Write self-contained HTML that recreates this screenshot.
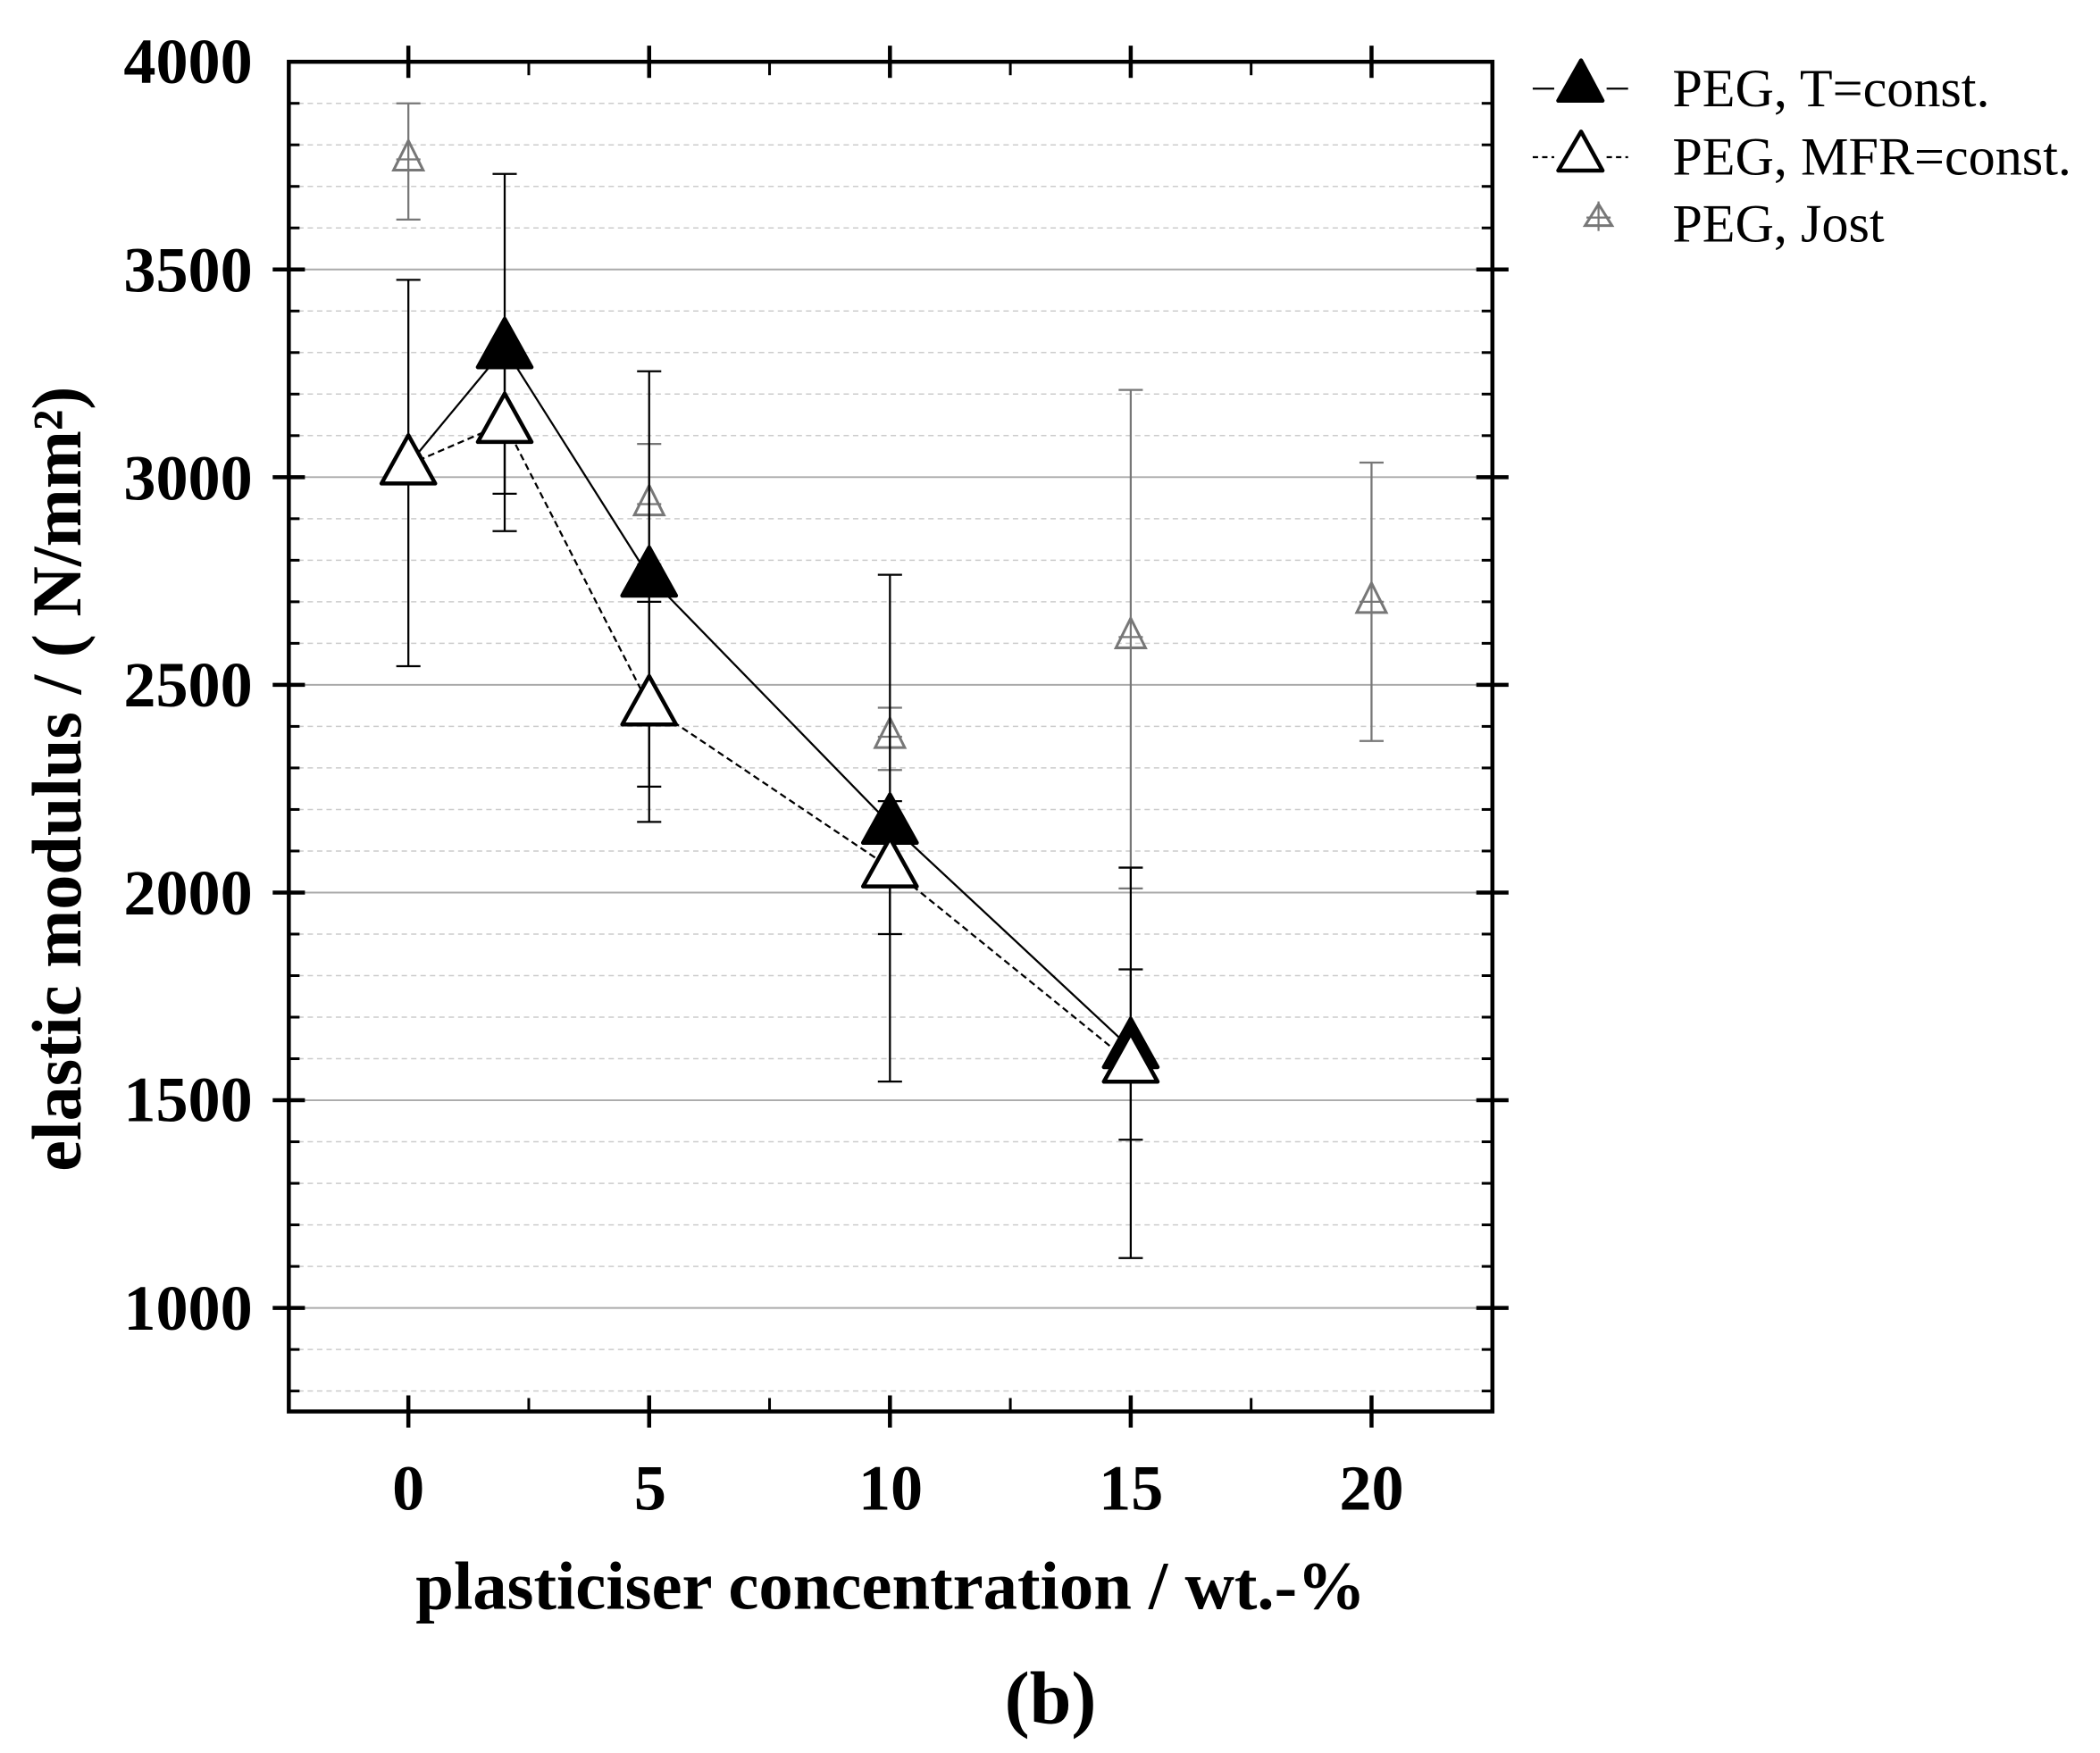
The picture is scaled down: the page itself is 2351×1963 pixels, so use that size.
<!DOCTYPE html>
<html><head><meta charset="utf-8"><style>html,body{margin:0;padding:0;background:#fff}svg{display:block}</style></head>
<body>
<svg id="s" xmlns="http://www.w3.org/2000/svg" width="2351" height="1963" viewBox="0 0 1563.3 1305.3" font-family="Liberation Serif, serif">
<rect width="1563.3" height="1305.3" fill="#fff"/>
<g id="grid"></g>
<g id="data"></g>
<rect x="215" y="46" width="896" height="1005" fill="none" stroke="#000" stroke-width="3"/>
<g id="ticks"></g>
<g font-size="48" font-weight="bold" text-anchor="end">
<text x="188" y="62">4000</text><text x="188" y="217">3500</text><text x="188" y="372">3000</text>
<text x="188" y="526">2500</text><text x="188" y="681">2000</text><text x="188" y="835">1500</text>
<text x="188" y="990">1000</text>
</g>
<g font-size="48" font-weight="bold" text-anchor="middle">
<text x="304" y="1124">0</text><text x="484" y="1124">5</text><text x="663" y="1124">10</text>
<text x="842" y="1124">15</text><text x="1021" y="1124">20</text>
<text x="663" y="1198" font-size="51">plasticiser concentration / wt.-%</text>
<text x="782" y="1283" font-size="56">(b)</text>
<text transform="translate(60,580) rotate(-90)" font-size="52">elastic modulus / ( N/mm²)</text>
</g>
<g font-size="40">
<text x="1245" y="79">PEG, T=const.</text>
<text x="1245" y="130">PEG, MFR=const.</text>
<text x="1245" y="180">PEG, Jost</text>
</g>
<g>
<line x1="1141" y1="66" x2="1157" y2="66" stroke="#000" stroke-width="1.5"/>
<line x1="1196" y1="66" x2="1212" y2="66" stroke="#000" stroke-width="1.5"/>
<polygon points="1177,45 1160,75 1193,75" fill="#000" stroke="#000" stroke-width="3" stroke-linejoin="round"/>
<line x1="1141" y1="117" x2="1157" y2="117" stroke="#000" stroke-width="1.5" stroke-dasharray="4,3"/>
<line x1="1196" y1="117" x2="1212" y2="117" stroke="#000" stroke-width="1.5" stroke-dasharray="4,3"/>
<polygon points="1177,98 1160,127 1193,127" fill="#fff" stroke="#000" stroke-width="3" stroke-linejoin="round"/>
<polygon points="1190,152 1180,168 1200,168" fill="none" stroke="#777" stroke-width="2"/>
<line x1="1190" y1="150" x2="1190" y2="172" stroke="#777" stroke-width="1.5"/>
<line x1="1181" y1="162" x2="1199" y2="162" stroke="#777" stroke-width="1.5"/>
</g>
</svg>
<script>
const NS="http://www.w3.org/2000/svg";
function el(p,t,a){const e=document.createElementNS(NS,t);for(const k in a)e.setAttribute(k,a[k]);document.getElementById(p).appendChild(e);return e;}
const X=v=>304+v*35.85, Y=v=>46+(4000-v)*0.3093;
for(let v=800;v<4000;v+=100){
 const y=Y(v);
 if(v%500==0) el('grid','line',{x1:215,x2:1111,y1:y,y2:y,stroke:'#aaa','stroke-width':1.3});
 else el('grid','line',{x1:215,x2:1111,y1:y,y2:y,stroke:'#ccc','stroke-width':1,'stroke-dasharray':'4,3'});
 if(v%500==0){el('ticks','line',{x1:203,x2:227,y1:y,y2:y,stroke:'#000','stroke-width':3});el('ticks','line',{x1:1099,x2:1123,y1:y,y2:y,stroke:'#000','stroke-width':3});}
 else {el('ticks','line',{x1:215,x2:223,y1:y,y2:y,stroke:'#000','stroke-width':2});el('ticks','line',{x1:1103,x2:1111,y1:y,y2:y,stroke:'#000','stroke-width':2});}
}
for(let u=-2.5;u<=22.5;u+=2.5){const x=X(u);
 if(u%5==0){el('ticks','line',{x1:x,x2:x,y1:1039,y2:1063,stroke:'#000','stroke-width':3});el('ticks','line',{x1:x,x2:x,y1:34,y2:58,stroke:'#000','stroke-width':3});}
 else if(x>215&&x<1111){el('ticks','line',{x1:x,x2:x,y1:1041,y2:1051,stroke:'#000','stroke-width':2});el('ticks','line',{x1:x,x2:x,y1:46,y2:56,stroke:'#000','stroke-width':2});}
}
function ebar(x,lo,hi,c,w,cw){const px=X(x);el('data','line',{x1:px,x2:px,y1:Y(lo),y2:Y(hi),stroke:c,'stroke-width':w});
 for(const v of [lo,hi])el('data','line',{x1:px-cw,x2:px+cw,y1:Y(v),y2:Y(v),stroke:c,'stroke-width':w});}
const J=[[0,3765,3620,3900],[5,2935,2790,3080],[10,2375,2295,2445],[15,2615,2010,3210],[20,2700,2365,3035]];
J.forEach(d=>{ebar(d[0],d[2],d[3],'#777',1.5,9);const x=X(d[0]),y=Y(d[1]);
 el('data','polygon',{points:`${x},${y-14} ${x-11},${y+8} ${x+11},${y+8}`,fill:'none',stroke:'#777','stroke-width':2});
 el('data','line',{x1:x-9,x2:x+9,y1:y,y2:y,stroke:'#777','stroke-width':1.5});});
const M=[[0,3030,2545,3475],[2,3130,2960,3300],[5,2450,2170,2700],[10,2060,1900,2220],[15,1590,1120,2060]];
const T=[[2,3310,2870,3730],[5,2760,2255,3255],[10,2165,1545,2765],[15,1625,1405,1815]];
M.forEach(d=>ebar(d[0],d[2],d[3],'#000',1.5,9));
T.forEach(d=>ebar(d[0],d[2],d[3],'#000',1.5,9));
el('data','polyline',{points:M.map(d=>X(d[0])+','+Y(d[1])).join(' '),fill:'none',stroke:'#000','stroke-width':1.5,'stroke-dasharray':'5,3'});
el('data','polyline',{points:[[0,3030]].concat(T).map(d=>X(d[0])+','+Y(d[1])).join(' '),fill:'none',stroke:'#000','stroke-width':1.5});
function tri(d,f){const x=X(d[0]),y=Y(d[1]);el('data','polygon',{points:`${x},${y-22} ${x-20},${y+14} ${x+20},${y+14}`,fill:f,stroke:'#000','stroke-width':3,'stroke-linejoin':'round'});}
T.forEach(d=>tri(d,'#000'));M.forEach(d=>tri(d,'#fff'));
</script>
</body></html>
